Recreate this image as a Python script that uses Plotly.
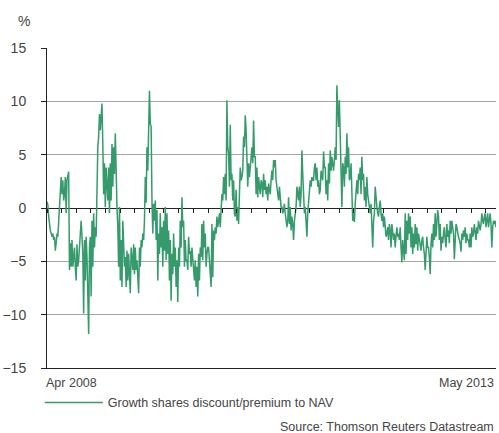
import pandas as pd
import plotly.graph_objects as go

# growth shares discount/premium to NAV (%), Apr 2008 - May 2013
seg_2008 = [0.6, 0.3, -0.8, -1.8, -2.1, -2.4, -2.7, -2.4, -3.0, -2.7, -4.0, -3.3, -2.4, -2.7,
            -1.5, -0.5, 1.0, 2.9, 1.3, 2.6, 0.7, 1.3, 2.9, -0.5, 2.6, 2.9, 3.4, -5.8, -3.3, -5.5,
            -3.0, -5.5, -4.5, -3.7, -5.5, -6.8, -3.4, -5.5, -4.9, -3.4, -1.8, -1.2, -2.7, -4.3,
            -9.9, -3.0, -6.8, -2.7, -4.6, -9.9, -11.8, -3.7, -2.7, -8.3, -1.2, -5.5, -0.5, -3.7,
            -1.8, -2.7, 2.6, 5.7, 6.7, 8.8, 7.3, 9.2, 9.8, 6.0, 1.3, 4.2, 0.1, 3.8, 2.6, 0.7,
            3.8, -0.5, 4.2, 0.7, 6.0, 2.0, 5.7, 3.2, 7.0, 2.0, 0.1, -1.8, -5.5, 0.1, -6.8, -3.0,
            -7.4, -1.2, -3.7, -5.5, -4.6, -7.4, -4.0, -6.8, -4.3, -6.2, -8.0, -3.7, -4.5, -5.8,
            -3.4, -6.2]
seg_2009 = [-3.7, -5.8, -4.9, -6.0, -8.0, -3.7, -5.5, -3.0, -3.7, -2.4, -3.0, -1.2, 2.9, 0.5,
            5.7, 3.5, 8.0, 11.0, 7.9, 7.6, 0.7, -2.4, 0.4, -1.2, 0.7, -3.0, -0.2, -6.8, -2.4,
            -4.3, -0.5, -3.7, -1.8, -5.5, -1.2, -4.0, 0.1, -4.9, -0.5, -4.3, -2.1, -6.8, -3.0,
            -8.7, -4.3, -6.2, -2.4, -5.5, -3.7, -7.4, -4.9, -8.8, -3.7, -5.5, -1.2, -3.7, 1.0,
            -1.8, -1.2, -5.5, -3.0, -4.9, -4.9, -5.8, -2.7, -4.3, -4.0, -5.5, -3.7, -4.9, -5.5,
            -6.8, -4.9, -7.4, -5.5, -8.3, -4.3, -6.8, -3.7, -4.6, -1.5, -4.9, -1.2, -3.7, -2.4,
            -5.5, -4.3, -3.7, -3.7, -4.9, -5.5, -7.4, -1.5, -6.5, -2.1, -3.0, -1.8, -2.4, -0.8,
            -1.8, -1.2, -0.5, -1.8, 0.1, 1.3, 0.7, 2.9, 1.3]
seg_2010 = [3.2, 0.7, 10.1, 5.7, 5.1, 2.0, 7.8, 2.6, 3.2, 0.7, 2.6, -0.5, -0.8, 1.7, -1.2, 0.1,
            -1.5, 1.3, 3.8, 2.6, 2.9, 3.5, 6.7, 5.7, 8.7, 7.3, 4.5, 2.0, 4.2, 2.9, 3.8, 4.5, 5.7,
            4.2, 8.2, 4.8, 4.8, 1.3, 3.8, 1.0, 2.9, 2.0, 1.3, 2.6, 2.3, 1.0, 3.2, 1.7, 2.6, 1.3,
            2.0, 0.7, 2.3, 1.7, 1.3, 2.6, 3.5, 2.6, 4.5, 3.8, 4.5, 2.6, 2.0, 1.3, 0.7, 2.0, 1.3,
            0.1, 0.1, -0.5, -0.2, 0.4, -0.5, -1.2, -1.8, -1.2, 1.0, -1.5, 0.1, -2.1, -0.8, -1.5,
            -3.0, -1.2, -0.5, 0.1, 2.0, 1.3, 0.7, 2.0, 0.1, 1.3, 5.4, 3.2, 1.7, -0.5, 0.1, -1.2,
            -2.7, -0.5, 0.4, 1.7, 2.6, 2.0, 2.9, 2.6, 2.6, 3.8]
seg_2011 = [4.2, 2.6, 3.8, 2.0, 2.6, 1.3, 1.7, 3.5, 2.9, 2.6, 5.3, 3.8, 3.8, 1.3, 2.6, 0.7, 4.2,
            2.3, 5.4, 3.5, 4.8, 3.8, 3.5, 4.5, 5.7, 4.5, 11.5, 9.5, 7.6, 10.1, 5.7, 2.6, 0.1, 4.2,
            3.8, 2.0, 4.8, 3.2, 7.0, 3.8, 5.7, 2.6, 2.9, 4.2, 0.1, -1.2, -0.5, -1.3, 0.4, 2.0,
            2.6, 1.3, 3.2, 2.6, 3.8, 1.3, 4.8, 2.6, 3.2, 0.7, 2.0, 0.1, 2.9, 1.3, 0.7, 0.1, -0.5,
            0.4, -2.4, -3.7, -1.2, -0.5, 2.0, 0.7, 0.1, -0.5, -0.8, 0.1, 0.7, -0.5, -1.2, -0.5,
            -1.8, -0.8, -1.5, -2.7, -2.4, -1.8, -3.0, -1.5, -2.1, -3.7, -1.5, -2.7, -3.0, -2.4,
            -3.7, -2.7, -1.8, -2.7, -2.4, -3.0, -1.8, -3.7, -5.1, -3.0, -3.7, -4.9]
seg_2012 = [-0.5, -4.3, -1.2, -3.0, -0.5, -2.4, -0.8, -3.7, -1.8, -4.3, -2.4, -3.7, -1.5, -3.4,
            -1.8, -4.0, -2.4, -3.0, -3.3, -4.0, -3.0, -2.7, -3.7, -4.3, -5.8, -3.0, -2.7, -3.7,
            -3.7, -4.6, -6.2, -3.3, -2.4, -3.7, -1.5, -3.0, -0.5, -2.7, -1.8, -0.2, -0.8, -3.0,
            -1.5, -4.0, -2.7, -3.3, -2.4, -1.8, -3.0, -3.7, -1.5, -2.7, -2.1, -3.3, -1.2, -2.4,
            -1.2, -2.1, -2.4, -4.8, -2.1, -1.5, -1.8, -2.4, -2.7, -3.0, -3.3, -4.1, -2.4, -3.0,
            -2.1, -2.7, -1.8, -3.3, -2.4, -3.0, -3.0, -3.7, -2.4, -3.7, -1.8, -2.7, -2.4, -1.5,
            -2.1, -3.0, -1.8, -2.4, -1.2, -1.8, -2.1, -1.5, -0.5, -1.2, -1.5, -0.8, -0.5, -1.8,
            -1.2, -0.5, -1.8, -1.2, -0.5, -1.5, -3.7, -1.8, -1.2, -1.5, -1.2, -1.8]

values = seg_2008 + seg_2009 + seg_2010 + seg_2011 + seg_2012
dates = pd.date_range("2008-04-01", "2013-05-15", periods=len(values))

series_name = "Growth shares discount/premium to NAV"
x_start, x_end = "2008-04-01", "2013-05-15"
y_ticks = [-15, -10, -5, 0, 5, 10, 15]

green = "#359b6c"
txt = "#444444"
font = dict(family="Liberation Sans, Arial, sans-serif", size=12.5, color=txt)

fig = go.Figure()
fig.add_trace(go.Scatter(x=dates, y=values, mode="lines", name=series_name,
                         line=dict(color=green, width=1.5)))

fig.update_layout(
    width=499, height=433,
    margin=dict(l=47, r=3, t=48, b=65),
    paper_bgcolor="white", plot_bgcolor="white",
    font=font,
    showlegend=True,
    legend=dict(orientation="h", x=-0.016, y=-0.062, xanchor="left", yanchor="top",
                font=font, itemwidth=58),
    xaxis=dict(range=[x_start, x_end], showgrid=False, showticklabels=False,
               showline=True, linecolor="#222", linewidth=1, ticks="", zeroline=False),
    xaxis2=dict(range=[x_start, x_end], overlaying="x", anchor="free", position=0.5,
                showgrid=False, showticklabels=False, showline=False, zeroline=False,
                ticks="outside", ticklen=4, tickcolor="#222", tickwidth=1,
                tick0="2008-06-01", dtick="M2"),
    yaxis=dict(range=[-15, 15], tickvals=y_ticks, showgrid=True, gridcolor="#a6a6a6",
               gridwidth=1, zeroline=True, zerolinecolor="#222", zerolinewidth=1,
               showline=True, linecolor="#222", linewidth=1, ticks="outside", ticklen=5,
               tickcolor="#222", ticklabelstandoff=12,
               tickfont=dict(size=14, color=txt, family=font["family"])),
)
# invisible trace so the second x axis (ticks on the zero line) is drawn
fig.add_trace(go.Scatter(x=[dates[0]], y=[None], xaxis="x2", showlegend=False,
                         hoverinfo="skip"))

fig.add_annotation(text="%", xref="paper", yref="paper", x=-0.051, y=1.084,
                   showarrow=False, xanchor="center", yanchor="middle",
                   font=dict(size=14, color=txt, family=font["family"]))
fig.add_annotation(text="Apr 2008", xref="paper", yref="paper", x=-0.007, y=-0.047,
                   showarrow=False, xanchor="left", yanchor="middle", font=font)
fig.add_annotation(text="May 2013", xref="paper", yref="paper", x=1.0, y=-0.047,
                   showarrow=False, xanchor="right", yanchor="middle", font=font)
fig.add_annotation(text="Source: Thomson Reuters Datastream", xref="paper", yref="paper",
                   x=1.0, y=-0.184, showarrow=False, xanchor="right", yanchor="middle",
                   font=font)

# drop the default body margin so the 499x433 figure fills the window exactly
fig.write_html("out.html", config={"displayModeBar": False},
               post_script="document.body.style.margin='0';"
                           "document.body.style.overflow='hidden';")
